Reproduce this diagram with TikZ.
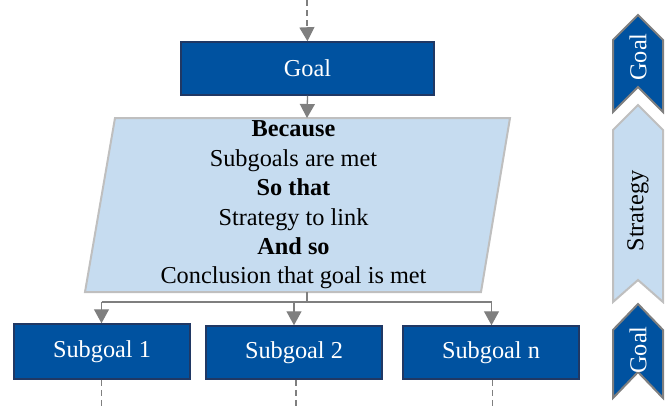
\documentclass[tikz,border=0pt]{standalone}
\usepackage{fontspec}
\setmainfont{Liberation Serif}
\usetikzlibrary{arrows.meta}
\definecolor{dblue}{RGB}{0,82,160}
\definecolor{navy}{RGB}{32,56,100}
\definecolor{lblue}{RGB}{198,220,240}
\definecolor{lgray}{RGB}{191,191,191}
\definecolor{mgray}{RGB}{127,127,127}
\tikzset{
  bluebox/.style={draw=navy, line width=1.5pt, fill=dblue, text=white, inner sep=0pt,
    font=\fontsize{24.3}{29}\selectfont},
  conn/.style={draw=mgray, line width=1.3pt, -{Triangle[width=15pt,length=14pt]}},
  plain/.style={draw=mgray, line width=1.3pt},
  dashconn/.style={draw=mgray, line width=1.3pt, dash pattern=on 6pt off 4pt},
  goalchev/.style={draw=mgray, line width=2pt, fill=dblue, line join=miter},
  stratchev/.style={draw=lgray, line width=2pt, fill=lblue, line join=miter},
  chevtext/.style={rotate=90, font=\fontsize{24.3}{29}\selectfont},
}
\begin{document}
\begin{tikzpicture}[x=1pt,y=-1pt]
\useasboundingbox (0,0) rectangle (670,410);
% Goal box
\node[bluebox, minimum width=253pt, minimum height=53pt] (goal) at (307.5,68.5) {Goal};
% Parallelogram
\draw[draw=lgray, fill=lblue, line width=2pt] (115,118) -- (510,118) -- (481,292) -- (85,292) -- cycle;
\node[align=center, font=\fontsize{24.3}{29.4}\selectfont, inner sep=0pt] (reason) at (293.5,205)
  {\textbf{Because}\\Subgoals are met\\\textbf{So that}\\Strategy to link\\\textbf{And so}\\Conclusion that goal is met};
\coordinate (ptop) at (307,118);
\coordinate (pbot) at (307,292);
\coordinate (junc) at (307,302);
% Subgoals
\node[bluebox, minimum width=176pt, minimum height=55pt] (s1) at (102,351.5) {Subgoal 1};
\node[bluebox, minimum width=176pt, minimum height=53pt] (s2) at (294,352.5) {Subgoal 2};
\node[bluebox, minimum width=176pt, minimum height=53pt] (s3) at (491,352.5) {Subgoal n};
\coordinate (h1) at (101.5,302);
\coordinate (h2) at (294,302);
\coordinate (h3) at (491.5,302);
\coordinate (top) at (307,0);
\coordinate (d1) at (101.5,410);
\coordinate (d2) at (296,410);
\coordinate (d3) at (492.5,410);
% Connectors
\draw[dashconn] (top) -- (307,30);
\draw[conn] (307,28) -- (goal.north);
\draw[conn] (goal.south) -- (ptop);
\draw[plain] (pbot) -- (junc);
\draw[plain] (h1) -- (h3);
\draw[conn] (h1) -- (h1 |- s1.north);
\draw[conn] (h2) -- (s2.north);
\draw[conn] (h3) -- (h3 |- s3.north);
\draw[dashconn] (h1 |- s1.south) -- (d1);
\draw[dashconn] (d2 |- s2.south) -- (d2);
\draw[dashconn] (d3 |- s3.south) -- (d3);
% Chevrons
\draw[goalchev] (638,15) -- (663,40) -- (663,112) -- (638,87) -- (613,112) -- (613,40) -- cycle;
\node[chevtext, text=white] (cg1) at (638,57) {Goal};
\draw[stratchev] (638,105) -- (663,130) -- (663,302) -- (638,280) -- (613,302) -- (613,130) -- cycle;
\node[chevtext] (cs) at (638,211) {Strategy};
\draw[goalchev] (638,304) -- (663,330) -- (663,398) -- (638,372) -- (613,398) -- (613,330) -- cycle;
\node[chevtext, text=white] (cg2) at (638,350) {Goal};
\end{tikzpicture}
\end{document}
